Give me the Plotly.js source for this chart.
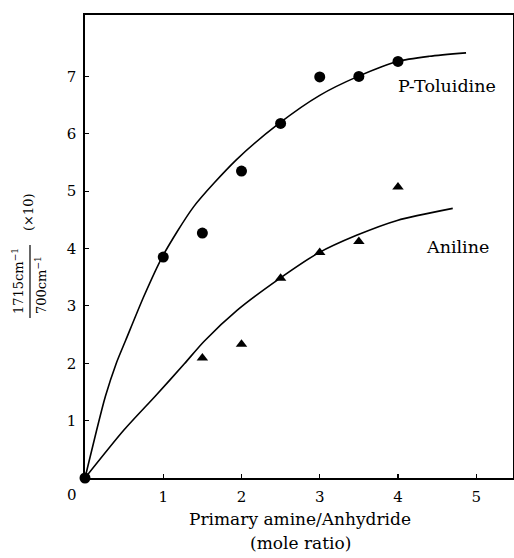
<!DOCTYPE html>
<html>
<head>
<meta charset="utf-8">
<script src="https://cdn.plot.ly/plotly-3.0.1.min.js"></script>
<style>html,body{margin:0;padding:0;background:#fff;}</style>
</head>
<body>
<div id="chart" style="width:514px;height:558px;"></div>
<script>
// Measured points
const ptolX = [0, 1, 1.5, 2, 2.5, 3, 3.5, 4];
const ptolY = [0, 3.85, 4.27, 5.35, 6.18, 6.99, 7.0, 7.26];
const anilX = [1.5, 2, 2.5, 3, 3.5, 4];
const anilY = [2.09, 2.33, 3.48, 3.93, 4.12, 5.07];

// Hand-drawn fitted curves
const ptolCurveX = [0, 0.15, 0.26, 0.40, 0.52, 0.75, 0.99, 1.39, 1.93, 2.48, 3.0, 3.49, 3.99, 4.4, 4.87];
const ptolCurveY = [0, 0.84, 1.42, 2.0, 2.40, 3.16, 3.86, 4.73, 5.54, 6.18, 6.67, 7.0, 7.26, 7.35, 7.41];
const anilCurveX = [0, 0.5, 0.9, 1.27, 1.52, 1.95, 2.49, 2.98, 3.47, 3.99, 4.70];
const anilCurveY = [0, 0.84, 1.43, 1.99, 2.38, 2.93, 3.48, 3.92, 4.23, 4.49, 4.70];

const xTicks = [1, 2, 3, 4, 5];
const yTicks = [1, 2, 3, 4, 5, 6, 7];

const serif = "DejaVu Serif, Liberation Serif, serif";

const traces = [
  {x: ptolCurveX, y: ptolCurveY, mode: 'lines', line: {color: '#000', width: 1.6, shape: 'spline', smoothing: 0.7}, hoverinfo: 'skip'},
  {x: anilCurveX, y: anilCurveY, mode: 'lines', line: {color: '#000', width: 1.6, shape: 'spline', smoothing: 0.7}, hoverinfo: 'skip'},
  {x: ptolX, y: ptolY, mode: 'markers', marker: {symbol: 'circle', size: 11, color: '#000'}, cliponaxis: false},
  {x: anilX, y: anilY, mode: 'markers', marker: {symbol: 'triangle-up', size: 10, color: '#000'}, cliponaxis: false}
];

// paper coordinate helpers from the plot frame (left 85, right 513, top 15, bottom 478)
const px = v => (v - 85) / 428;
const py = v => (478 - v) / 463;

function ann(text, x, y, size, angle) {
  return {text: text, xref: 'paper', yref: 'paper', x: px(x), y: py(y),
          xanchor: 'center', yanchor: 'middle', showarrow: false, textangle: angle || 0,
          font: {family: serif, size: size, color: '#000'}};
}

const layout = {
  width: 514, height: 558,
  margin: {l: 85, r: 1, t: 15, b: 80},
  paper_bgcolor: '#fff', plot_bgcolor: '#fff',
  showlegend: false,
  font: {family: serif, color: '#000', size: 15},
  xaxis: {
    range: [0, 5.47], tickvals: xTicks, ticktext: xTicks.map(String),
    ticks: 'inside', ticklen: 4, tickwidth: 1.2, tickcolor: '#000',
    showline: true, linecolor: '#000', linewidth: 1.6, mirror: true,
    showgrid: false, zeroline: false, ticklabelstandoff: 4,
    tickfont: {family: serif, size: 15, color: '#000'}
  },
  yaxis: {
    range: [0, 8.07], tickvals: yTicks, ticktext: yTicks.map(String),
    ticks: 'inside', ticklen: 4, tickwidth: 1.2, tickcolor: '#000',
    showline: true, linecolor: '#000', linewidth: 1.6, mirror: true,
    showgrid: false, zeroline: false, ticklabelstandoff: 4,
    tickfont: {family: serif, size: 15, color: '#000'}
  },
  annotations: [
    ann('P-Toluidine', 447, 86, 17.5),
    ann('Aniline', 457, 247, 17.5),
    ann('0', 72, 495, 15),
    ann('Primary amine/Anhydride', 300, 519, 17),
    ann('(mole ratio)', 300, 543, 17),
    ann('1715cm<sup>\u22121</sup>', 18, 281, 13, -90),
    ann('700cm<sup>\u22121</sup>', 41, 285, 13, -90),
    ann('(\u00d710)', 29, 212, 13, -90)
  ],
  shapes: [
    {type: 'line', xref: 'paper', yref: 'paper', x0: px(30), x1: px(30), y0: py(245), y1: py(318), line: {color: '#000', width: 1.2}}
  ]
};

Plotly.newPlot('chart', traces, layout, {staticPlot: true, displayModeBar: false});
</script>
</body>
</html>
